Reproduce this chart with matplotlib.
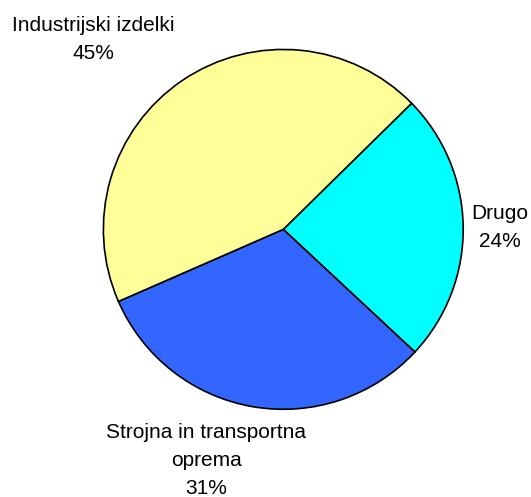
import matplotlib.pyplot as plt

plt.rcParams['font.family'] = ['Liberation Sans', 'DejaVu Sans']

# podatki
labels = ['Drugo', 'Strojna in transportna\noprema', 'Industrijski izdelki']
values = [24.3, 31.5, 44.2]
pct_text = ['24%', '31%', '45%']
colors = ['#00FFFF', '#3366FF', '#FFFF99']

# pozicije oznak (v enotah polmera)
label_pos = [(1.204, 0.013), (-0.427, -1.282), (-1.057, 1.057)]

fig = plt.figure(figsize=(5.31, 4.97), dpi=100)
ax = fig.add_axes([0.1945, 0.1765, 0.678, 0.724])

ax.pie(values, colors=colors, startangle=44.5, counterclock=False,
       wedgeprops={'edgecolor': 'black', 'linewidth': 1.2})

for lab, p, (x, y) in zip(labels, pct_text, label_pos):
    ax.text(x, y, f'{lab}\n{p}', ha='center', va='center',
            fontsize=15, linespacing=1.6)

ax.set_xlim(-1, 1)
ax.set_ylim(-1, 1)
ax.set_aspect('equal')

plt.savefig('out.png', dpi=100)
